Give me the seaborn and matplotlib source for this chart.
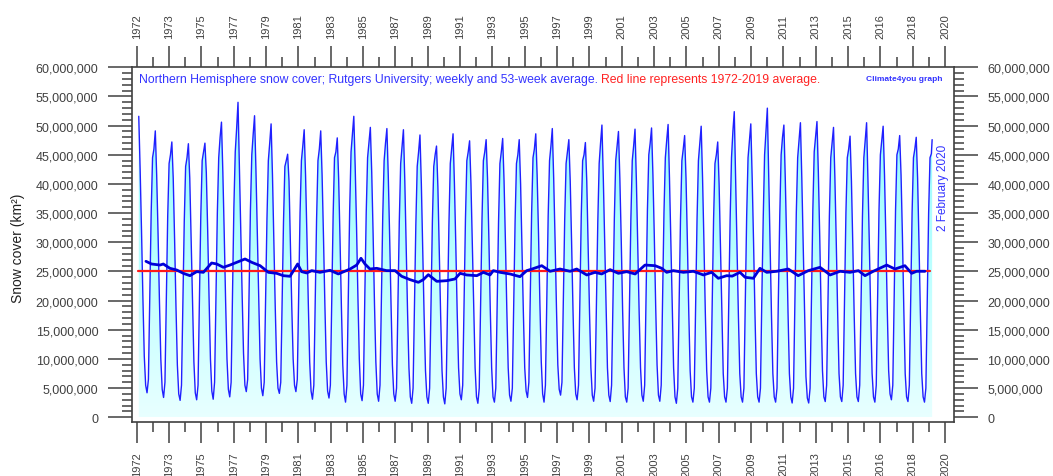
import numpy as np
import pandas as pd
import matplotlib
matplotlib.use("Agg")
import matplotlib.pyplot as plt
from matplotlib.colors import LinearSegmentedColormap
from matplotlib.ticker import FixedLocator, MultipleLocator, StrMethodFormatter
import seaborn as sns

# Northern Hemisphere snow cover (million km2), one value per month read off the
# chart, first entry = 1972. jan/feb run to 2020, the other months to 2019.
first_year = 1972
jan = [None, 46.0, 45.0, 44.5, 45.5, 48.0, 49.5, 48.5, 47.0, 44.0, 46.5, 46.0, 45.5, 48.5, 47.0, 47.0,
       46.5, 45.5, 45.0, 46.0, 45.5, 45.5, 45.5, 45.0, 46.0, 46.5, 45.5, 45.0, 47.0, 46.5, 46.5, 47.0,
       47.5, 46.0, 47.0, 45.0, 49.0, 47.5, 49.0, 48.0, 47.5, 48.0, 47.0, 46.0, 47.5, 47.5, 46.0, 46.0, 45.2]
feb = [51.6, 49.1, 47.2, 46.9, 47.0, 50.6, 54.0, 51.7, 50.3, 45.1, 49.3, 49.1, 47.9, 51.6, 49.7, 49.5,
       49.3, 48.4, 46.5, 48.6, 47.4, 47.6, 47.8, 47.6, 48.6, 49.5, 47.6, 47.1, 50.1, 49.0, 49.4, 49.6,
       50.2, 48.3, 49.9, 47.2, 52.4, 50.3, 53.0, 50.1, 50.5, 50.7, 49.7, 48.2, 50.5, 49.9, 48.3, 48.0, 47.6]
mar = [42.5, 41.5, 41.0, 41.0, 42.0, 42.0, 43.0, 42.5, 41.5, 40.5, 41.5, 41.5, 41.0, 43.0, 42.0, 41.5,
       40.5, 40.0, 39.5, 40.0, 40.0, 41.0, 40.5, 40.0, 41.5, 41.0, 40.5, 40.5, 41.0, 41.0, 40.5, 41.5,
       41.0, 41.0, 41.0, 40.0, 40.5, 41.0, 41.5, 41.0, 41.0, 42.0, 41.0, 40.5, 40.5, 41.5, 41.5, 41.0]
apr = [32.0, 31.5, 30.5, 30.5, 32.0, 31.5, 32.5, 31.5, 30.5, 30.0, 31.0, 31.0, 30.5, 32.5, 31.5, 31.0,
       29.5, 29.0, 28.5, 29.5, 29.5, 30.5, 30.0, 29.0, 31.5, 30.5, 30.0, 29.5, 30.0, 30.5, 29.5, 31.0,
       30.0, 30.0, 30.0, 29.0, 29.5, 30.0, 29.5, 30.0, 29.5, 31.0, 30.0, 29.5, 29.5, 30.5, 31.0, 30.0]
may = [20.5, 20.0, 19.0, 19.5, 20.5, 20.0, 21.0, 20.0, 19.0, 19.0, 19.5, 19.5, 19.0, 20.5, 19.5, 19.5,
       18.0, 17.5, 17.5, 18.0, 18.5, 18.5, 18.5, 18.0, 19.5, 19.0, 18.5, 18.0, 18.5, 18.5, 18.0, 19.0,
       18.5, 18.0, 18.0, 17.5, 17.5, 18.0, 17.5, 18.0, 17.5, 18.5, 18.0, 17.5, 17.5, 18.5, 18.5, 18.0]
jun = [10.5, 10.0, 9.0, 9.5, 10.0, 10.0, 11.0, 10.0, 9.5, 10.0, 9.5, 9.5, 9.0, 10.0, 9.5, 9.0,
       8.5, 8.0, 8.0, 8.5, 8.5, 8.5, 8.5, 8.5, 9.5, 9.0, 8.5, 8.5, 8.5, 8.5, 8.5, 9.0,
       8.5, 8.0, 8.0, 7.5, 7.5, 7.5, 7.5, 7.5, 7.0, 8.0, 7.5, 7.5, 7.5, 8.0, 7.5, 7.5]
jul = [5.5, 4.8, 4.0, 4.2, 4.5, 4.8, 5.5, 5.0, 5.0, 5.5, 4.5, 4.5, 4.0, 4.0, 4.0, 4.0,
       3.5, 3.5, 3.5, 4.0, 3.5, 3.5, 3.8, 4.5, 4.0, 4.8, 4.0, 3.8, 3.8, 3.5, 3.8, 3.8,
       3.5, 3.5, 3.5, 3.5, 3.5, 3.5, 3.5, 3.5, 3.3, 3.5, 3.5, 3.5, 3.5, 4.0, 3.5, 3.5]
aug = [4.2, 3.4, 2.9, 3.0, 3.1, 3.5, 4.4, 3.7, 4.1, 4.4, 3.1, 3.3, 2.6, 2.85, 2.75, 2.75,
       2.4, 2.4, 2.3, 3.0, 2.4, 2.6, 2.75, 3.4, 2.6, 3.8, 3.0, 2.75, 2.7, 2.6, 2.75, 2.75,
       2.4, 2.6, 2.6, 2.6, 2.6, 2.6, 2.6, 2.45, 2.45, 2.7, 2.7, 2.7, 2.6, 3.0, 2.7, 2.6]
sep = [6.5, 6.0, 5.5, 5.5, 6.0, 6.0, 6.5, 6.0, 6.0, 6.5, 5.5, 5.5, 5.5, 5.5, 5.5, 5.0,
       5.0, 5.0, 5.0, 5.5, 5.0, 5.0, 5.0, 6.0, 5.5, 6.0, 5.5, 5.0, 5.5, 5.0, 5.5, 5.5,
       5.0, 5.0, 5.0, 5.0, 5.0, 5.0, 5.0, 5.0, 5.0, 5.5, 5.5, 5.5, 5.5, 5.5, 5.5, 5.0]
oct_ = [21.0, 20.0, 19.0, 19.5, 21.0, 21.5, 21.0, 20.0, 19.5, 21.0, 20.0, 20.0, 21.0, 21.0, 20.0, 19.0,
        18.5, 19.0, 18.5, 19.5, 19.5, 19.0, 19.0, 20.0, 20.0, 19.5, 20.0, 19.0, 20.0, 19.5, 21.0, 20.5,
        19.5, 19.5, 19.5, 19.5, 20.0, 20.5, 20.5, 20.0, 20.5, 20.0, 20.5, 20.0, 21.0, 21.0, 20.5, 20.5]
nov = [35.0, 34.5, 33.5, 34.5, 35.0, 36.0, 35.5, 34.0, 33.5, 35.0, 34.0, 34.5, 35.5, 35.0, 34.5, 33.5,
       33.0, 33.5, 33.0, 34.0, 34.0, 33.5, 33.5, 35.0, 34.5, 34.0, 34.5, 33.5, 34.0, 34.0, 35.5, 35.0,
       34.0, 34.0, 34.0, 34.0, 34.5, 34.0, 34.5, 35.0, 35.5, 34.5, 35.0, 34.5, 35.5, 35.5, 35.0, 35.0]
dec = [44.5, 43.5, 43.0, 44.0, 44.5, 45.5, 45.0, 44.0, 43.0, 44.0, 44.0, 44.5, 45.5, 44.5, 44.0, 43.5,
       43.0, 43.0, 43.5, 44.0, 44.0, 43.5, 43.5, 44.5, 44.0, 43.5, 44.0, 43.5, 44.0, 44.0, 45.0, 44.5,
       44.0, 44.0, 43.5, 44.5, 44.5, 45.0, 45.0, 44.5, 45.5, 44.5, 44.5, 44.5, 45.0, 45.0, 44.5, 44.5]
last_week = 2020.087  # 2 February 2020

# 53-week running average (decimal year, million km2)
avg_year = [1972.56, 1972.90, 1973.41, 1973.61, 1974.01, 1974.42, 1974.82, 1975.22, 1975.63, 1976.03,
            1976.53, 1976.84, 1977.24, 1977.64, 1978.05, 1978.55, 1978.95, 1979.46, 1979.96, 1980.46,
            1980.86, 1981.27, 1981.73, 1981.97, 1982.28, 1982.58, 1983.08, 1983.69, 1984.19, 1984.90,
            1985.30, 1985.56, 1985.80, 1986.10, 1986.51, 1987.11, 1987.62, 1988.02, 1988.52, 1989.03,
            1989.33, 1989.63, 1990.14, 1990.74, 1991.24, 1991.55, 1991.95, 1992.56, 1992.96, 1993.36,
            1993.56, 1993.97, 1994.57, 1995.17, 1995.58, 1995.88, 1996.49, 1996.99, 1997.59, 1998.20,
            1998.60, 1999.21, 1999.71, 2000.11, 2000.62, 2001.12, 2001.62, 2002.13, 2002.73, 2003.34,
            2003.74, 2004.04, 2004.44, 2005.05, 2005.65, 2006.26, 2006.76, 2007.16, 2007.67, 2008.00,
            2008.47, 2008.78, 2009.28, 2009.68, 2010.09, 2010.69, 2011.39, 2011.99, 2012.60, 2013.31,
            2013.92, 2014.52, 2015.12, 2015.63, 2016.03, 2016.53, 2017.34, 2017.84, 2018.44, 2018.85,
            2019.15, 2019.65]
avg_cover = [26.74, 26.28, 26.10, 26.28, 25.54, 25.25, 24.68, 24.28, 24.97, 24.85,
             26.45, 26.28, 25.71, 26.10, 26.57, 27.14, 26.57, 25.99, 24.85, 24.68,
             24.28, 24.17, 26.28, 24.97, 24.74, 25.14, 24.85, 25.20, 24.57, 25.42,
             26.10, 27.26, 26.28, 25.42, 25.54, 25.14, 25.14, 24.17, 23.60, 23.14,
             23.60, 24.45, 23.31, 23.42, 23.71, 24.68, 24.40, 24.28, 24.85, 24.40,
             25.14, 24.85, 24.57, 24.11, 25.14, 25.40, 25.99, 25.03, 25.42, 25.03,
             25.42, 24.40, 24.85, 24.57, 25.31, 24.68, 24.97, 24.57, 26.10, 25.99,
             25.54, 24.85, 25.14, 24.85, 25.03, 24.40, 24.85, 23.83, 24.28, 24.20,
             24.85, 24.00, 23.83, 25.54, 24.85, 25.03, 25.42, 24.28, 25.14, 25.71,
             24.40, 25.03, 24.85, 25.14, 24.28, 25.03, 26.10, 25.42, 25.99, 24.68,
             25.03, 25.03]

# 1972-2019 average (red line)
mean_cover = 25.0
mean_span = [1972.10, 2019.97]

tick_labels = ["1972", "1973", "1975", "1977", "1979", "1981", "1983", "1985", "1987", "1989",
               "1991", "1993", "1995", "1997", "1999", "2001", "2003", "2005", "2007", "2009",
               "2011", "2013", "2015", "2016", "2018", "2020"]

# long table of the weekly series
months = [jan, feb, mar, apr, may, jun, jul, aug, sep, oct_, nov, dec]
rows = []
for i in range(len(jan)):
    for m, vals in enumerate(months):
        if i < len(vals) and vals[i] is not None:
            rows.append({"year": first_year + i + (m + 0.5) / 12, "cover": vals[i] * 1e6})
df = pd.DataFrame(rows)
df.loc[df.index[-1], "year"] = last_week
df_avg = pd.DataFrame({"year": avg_year, "cover": np.array(avg_cover) * 1e6})

sns.set_theme(style="white")
plt.rcParams["font.family"] = ["Liberation Sans", "DejaVu Sans"]

fig = plt.figure(figsize=(10.53, 4.77), dpi=100)
ax = fig.add_axes([0.1251, 0.1126, 0.7809, 0.7442])
xlim = (1971.70, 2021.41)
ylim = (-0.857e6, 60e6)

# gradient fill under the weekly curve
poly = ax.fill_between(df["year"], 0, df["cover"], facecolor="none", edgecolor="none")
cmap = LinearSegmentedColormap.from_list("snow", ["#e8ffff", "#b8ffff", "#8efcff"])
grad = np.linspace(0, 1, 256)[:, None]
im = ax.imshow(grad, extent=[xlim[0], xlim[1], 0, 55e6], origin="lower", aspect="auto",
               cmap=cmap, zorder=1, interpolation="bilinear")
im.set_clip_path(poly.get_paths()[0], transform=ax.transData)

sns.lineplot(data=df, x="year", y="cover", ax=ax, color="#2020ff", lw=1.0, zorder=2)
ax.plot(mean_span, [mean_cover * 1e6] * 2, color="#ff1a1a", lw=1.6, zorder=3)
sns.lineplot(data=df_avg, x="year", y="cover", ax=ax, color="#0000d8", lw=2.0, zorder=4)

ax.set_xlim(*xlim)
ax.set_ylim(*ylim)
ax.set_xlabel("")
ax.set_ylabel("")

major = [1972 + k * 1.955 for k in range(len(tick_labels))]
minor = [p + 1.955 / 2 for p in major[:-1]]
ax.xaxis.set_major_locator(FixedLocator(major))
ax.xaxis.set_minor_locator(FixedLocator(minor))
ax.set_xticklabels(tick_labels)
ax.yaxis.set_major_locator(MultipleLocator(5e6))
ax.yaxis.set_minor_locator(MultipleLocator(1e6))
ax.yaxis.set_major_formatter(StrMethodFormatter("{x:,.0f}"))

tc = "#404040"
ax.tick_params(axis="x", which="major", direction="out", length=15, width=1.1, color=tc,
               bottom=True, top=True, labelbottom=True, labeltop=True, labelrotation=90,
               labelsize=8, labelcolor=tc, pad=6)
ax.tick_params(axis="x", which="minor", direction="out", length=7.5, width=1.1, color=tc,
               top=True, bottom=True)
ax.tick_params(axis="y", which="major", direction="out", length=17, width=1.1, color=tc,
               left=True, right=True, labelleft=True, labelright=True, labelsize=9,
               labelcolor=tc, pad=7)
ax.tick_params(axis="y", which="minor", direction="out", length=7, width=1.1, color=tc,
               left=True, right=True)
for s in ax.spines.values():
    s.set_color(tc)
    s.set_linewidth(1.2)

title = ax.text(0.0089, 0.967, "Northern Hemisphere snow cover; Rutgers University; weekly and 53-week average. ",
                transform=ax.transAxes, color="#3333ff", fontsize=8.8, va="center", ha="left")
ax.annotate("Red line represents 1972-2019 average.", xy=(1, 0), xycoords=title,
            va="bottom", ha="left", color="#ff2222", fontsize=8.8)
ax.text(0.9863, 0.9696, "Climate4you graph", transform=ax.transAxes, color="#3333ff",
        fontsize=6, fontweight="bold", ha="right", va="center")
ax.text(0.9866, 0.663, "2 February 2020", transform=ax.transAxes, color="#3333ff",
        fontsize=8.5, rotation=90, ha="center", va="center")
fig.text(0.017, 0.48, "Snow cover (km\u00b2)", rotation=90, fontsize=10, ha="center",
         va="center", color="#202020")

fig.savefig("out.png", dpi=100)
